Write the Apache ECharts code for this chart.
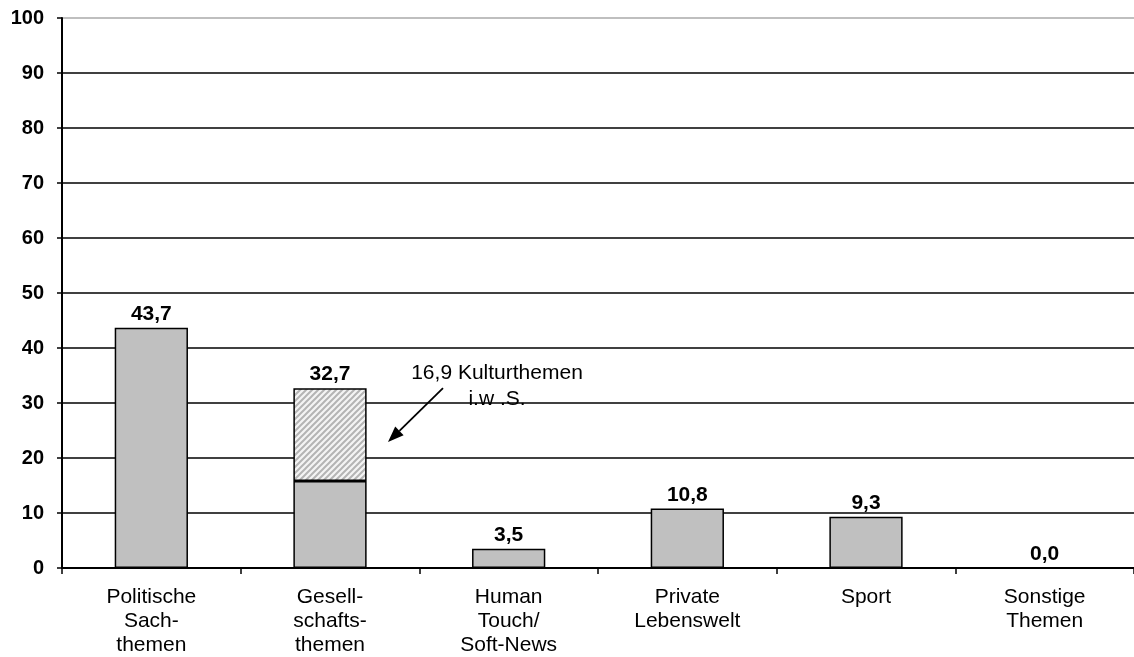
<!DOCTYPE html>
<html>
<head>
<meta charset="utf-8">
<script src="https://cdn.jsdelivr.net/npm/echarts@6/dist/echarts.min.js"></script>
<style>
  html, body { margin: 0; padding: 0; background: #fff; }
  #chart { width: 1134px; height: 657px; }
</style>
</head>
<body>
<div id="chart"></div>
<script>
// Themenanteile in Prozent
const categories = [
  'Politische\nSach-\nthemen',
  'Gesell-\nschafts-\nthemen',
  'Human\nTouch/\nSoft-News',
  'Private\nLebenswelt',
  'Sport',
  'Sonstige\nThemen'
];
const totals = [43.7, 32.7, 3.5, 10.8, 9.3, 0.0];
// Anteil Kulturthemen i.w.S. innerhalb der Gesellschaftsthemen
const kultur = [0, 16.9, 0, 0, 0, 0];
const yTicks = [0, 10, 20, 30, 40, 50, 60, 70, 80, 90, 100];

const base = totals.map((t, i) => +(t - kultur[i]).toFixed(1));
const fmt = v => v.toFixed(1).replace('.', ',');
const FONT = '"Liberation Sans", Arial, sans-serif';

// diagonal hatch fill for the culture share
function hatch() {
  const s = 6;
  const c = document.createElement('canvas');
  c.width = s; c.height = s;
  const g = c.getContext('2d');
  g.fillStyle = '#f4f4f4';
  g.fillRect(0, 0, s, s);
  g.strokeStyle = '#b4b4b4';
  g.lineWidth = 2;
  g.beginPath();
  g.moveTo(-1, s + 1); g.lineTo(s + 1, -1);
  g.moveTo(-1, 1); g.lineTo(1, -1);
  g.moveTo(s - 1, s + 1); g.lineTo(s + 1, s - 1);
  g.stroke();
  return c;
}

const chart = echarts.init(document.getElementById('chart'));
const labelStyle = { fontFamily: FONT, fontWeight: 'bold', fontSize: 21, color: '#000', distance: 3 };

chart.setOption({
  animation: false,
  grid: { left: 62, right: 0, top: 18, bottom: 89 },
  xAxis: {
    type: 'category',
    data: categories,
    axisLine: { lineStyle: { color: '#000', width: 2 } },
    axisTick: { show: true, length: 6, lineStyle: { color: '#000', width: 1.5 } },
    axisLabel: { fontFamily: FONT, fontSize: 21, color: '#000', lineHeight: 24, margin: 17 }
  },
  yAxis: {
    type: 'value',
    min: 0, max: 100, interval: 10,
    axisLine: { show: true, lineStyle: { color: '#000', width: 2 } },
    axisTick: { show: true, length: 5, lineStyle: { color: '#000', width: 1.5 } },
    axisLabel: {
      fontFamily: FONT, fontWeight: 'bold', fontSize: 20, color: '#000', margin: 18,
      formatter: v => yTicks.includes(v) ? String(v) : ''
    },
    splitLine: {
      lineStyle: {
        color: yTicks.map(v => v === 100 ? '#aaa' : '#000'),
        width: 1.6
      }
    }
  },
  series: [
    {
      type: 'bar',
      stack: 'a',
      data: base,
      barWidth: '41%',
      itemStyle: { color: '#c0c0c0', borderColor: '#000', borderWidth: 1.5 },
      label: {
        show: true, position: 'top', ...labelStyle,
        formatter: p => kultur[p.dataIndex] ? '' : fmt(totals[p.dataIndex])
      }
    },
    {
      type: 'bar',
      stack: 'a',
      data: kultur.map(v => v || null),
      barWidth: '41%',
      itemStyle: { color: { image: hatch(), repeat: 'repeat' }, borderColor: '#000', borderWidth: 1.5 },
      label: {
        show: true, position: 'top', ...labelStyle,
        formatter: p => fmt(totals[p.dataIndex])
      }
    }
  ]
});

// annotation with arrow for the culture share
const ax = chart.convertToPixel({ gridIndex: 0 }, [1, 0])[0];
const yAt = v => chart.convertToPixel({ gridIndex: 0 }, [1, v])[1];
const tipX = ax + 58, tipY = yAt(22.9);
const startX = ax + 113, startY = yAt(32.7);
const ang = Math.atan2(startY - tipY, startX - tipX);
const headLen = 16, headHalf = 6;
const bx = tipX + Math.cos(ang) * headLen, by = tipY + Math.sin(ang) * headLen;
const px = -Math.sin(ang) * headHalf, py = Math.cos(ang) * headHalf;

chart.setOption({
  graphic: [
    {
      type: 'text',
      style: {
        text: '16,9 Kulturthemen\ni.w .S.',
        x: ax + 167, y: yAt(37.7),
        textAlign: 'center', textVerticalAlign: 'top',
        font: '21px ' + FONT, fill: '#000', lineHeight: 26
      }
    },
    {
      type: 'line',
      shape: { x1: startX, y1: startY, x2: bx, y2: by },
      style: { stroke: '#000', lineWidth: 1.8 }
    },
    {
      type: 'polygon',
      shape: { points: [[tipX, tipY], [bx + px, by + py], [bx - px, by - py]] },
      style: { fill: '#000' }
    }
  ]
});
</script>
</body>
</html>
